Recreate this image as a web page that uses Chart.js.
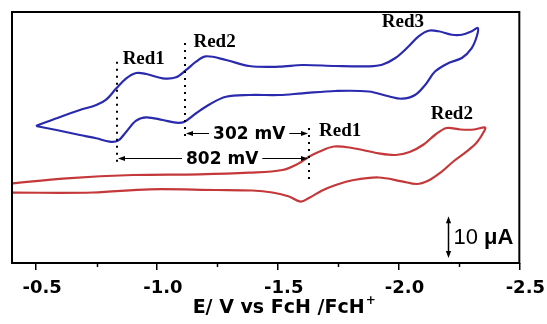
<!DOCTYPE html>
<html>
<head>
<meta charset="utf-8">
<script src="https://cdn.jsdelivr.net/npm/chart.js@4.4.1/dist/chart.umd.min.js"></script>
<style>
  html, body { margin: 0; padding: 0; background: #fff; }
</style>
</head>
<body>
<canvas id="cv" width="547" height="324"></canvas>
<script>
'use strict'

// CV loops: potential (V vs FcH/FcH+) and current (uA, offset)
const blueE = [-0.499,-0.584,-0.681,-0.749,-0.791,-0.832,-0.873,-0.914,-0.956,-1.024,-1.079,-1.121,-1.162,-1.203,-1.286,-1.382,-1.506,-1.602,-1.740,-1.877,-1.932,-1.987,-2.042,-2.083,-2.124,-2.166,-2.221,-2.262,-2.303,-2.328,
  -2.324,-2.303,-2.262,-2.207,-2.152,-2.111,-2.070,-2.014,-1.959,-1.877,-1.740,-1.602,-1.506,-1.382,-1.286,-1.217,-1.162,-1.114,-1.079,-1.024,-0.956,-0.914,-0.873,-0.839,-0.804,-0.749,-0.681,-0.584,-0.499]
const blueI = [32.75,34.59,36.57,37.77,39.13,41.76,44.15,45.42,45.18,44.15,44.39,46.14,48.12,49.41,48.53,47.09,46.92,47.33,47.09,47.02,47.40,49.00,51.80,54.19,55.53,55.39,54.57,54.57,55.39,56.18,
  54.19,51.39,49.00,47.81,45.82,42.62,40.23,39.27,39.85,41.00,41.12,40.57,40.16,40.16,39.75,37.89,35.79,33.78,33.54,34.18,34.83,34.02,31.39,29.24,29.00,29.81,30.60,31.79,32.75]

const redE = [-0.350,-0.400,-0.626,-0.900,-1.176,-1.382,-1.519,-1.588,-1.629,-1.671,-1.733,-1.808,-1.918,-1.988,-2.046,-2.104,-2.153,-2.199,-2.256,-2.314,-2.358,
  -2.349,-2.322,-2.281,-2.232,-2.174,-2.124,-2.075,-2.014,-1.918,-1.815,-1.740,-1.684,-1.629,-1.595,-1.547,-1.478,-1.395,-1.244,-0.969,-0.735,-0.400,-0.350]
const redI = [18.77,19.05,20.25,21.04,21.20,21.59,22.23,23.83,25.41,26.61,27.85,27.49,26.22,25.82,26.53,28.33,30.72,32.27,31.91,31.91,32.39,
  30.96,28.69,26.61,24.50,21.63,19.72,18.88,19.53,20.44,19.84,18.65,17.33,15.54,14.65,15.90,16.85,17.33,17.45,17.62,16.85,16.81,16.81]

const xTicks = [-0.5, -1.0, -1.5, -2.0, -2.5]
const xMinor = [-0.75, -1.25, -1.75, -2.25]

// peak markers (dotted lines)
const markE = [-0.833, -1.118, -1.629]
const markTop = [48.1, 52.6, 32.3]
const markBottom = [23.9, 30.1, 19.4]

// peak labels
const labelText = ['Red1', 'Red2', 'Red3', 'Red1', 'Red2']
const labelE = [-0.858, -1.151, -1.931, -1.671, -2.133]
const labelI = [48.77, 52.71, 57.49, 31.55, 35.62]

// separations
const gapText = ['302 mV', '802 mV']
const gapFrom = [-1.118, -0.833]
const gapTo = [-1.629, -1.629]
const gapMid = [-1.382, -1.270]
const gapI = [31.1, 25.1]

// 10 uA scale bar
const barE = -2.203
const barI = [1.2, 11.2]

const pts = (E, I) => E.map((e, i) => ({ x: e, y: I[i] }))

function head(ctx, x, y, dx, dy) {
  // filled arrow head with tip at x,y pointing along dx,dy
  const L = 7, W = 2.6
  ctx.beginPath()
  ctx.moveTo(x, y)
  ctx.lineTo(x - dx * L - dy * W, y - dy * L - dx * W)
  ctx.lineTo(x - dx * L + dy * W, y - dy * L + dx * W)
  ctx.closePath()
  ctx.fill()
}

const annot = {
  id: 'annot',
  afterDatasetsDraw(chart) {
    const { ctx, scales: { x, y } } = chart
    ctx.save()
    ctx.fillStyle = '#000'
    ctx.strokeStyle = '#000'

    // dotted lines
    ctx.lineWidth = 2
    ctx.setLineDash([2, 5])
    markE.forEach((e, i) => {
      const px = Math.round(x.getPixelForValue(e))
      ctx.beginPath()
      ctx.moveTo(px, y.getPixelForValue(markTop[i]))
      ctx.lineTo(px, y.getPixelForValue(markBottom[i]))
      ctx.stroke()
    })
    ctx.setLineDash([])

    // labels
    ctx.font = 'bold 19px "Liberation Serif"'
    ctx.textAlign = 'left'
    ctx.textBaseline = 'middle'
    labelText.forEach((t, i) => ctx.fillText(t, x.getPixelForValue(labelE[i]), y.getPixelForValue(labelI[i])))

    // separations with arrows
    ctx.font = 'bold 17px "DejaVu Sans"'
    ctx.textAlign = 'center'
    ctx.lineWidth = 1
    gapText.forEach((t, i) => {
      const x1 = Math.round(x.getPixelForValue(gapFrom[i])) + 1
      const x2 = Math.round(x.getPixelForValue(gapTo[i])) - 1
      const cx = x.getPixelForValue(gapMid[i])
      const cy = Math.round(y.getPixelForValue(gapI[i])) + 0.5
      const w = ctx.measureText(t).width
      ctx.fillText(t, cx, cy + 1)
      ctx.beginPath()
      ctx.moveTo(x1 + 3, cy); ctx.lineTo(cx - w / 2 - 4, cy)
      ctx.moveTo(cx + w / 2 + 4, cy); ctx.lineTo(x2 - 3, cy)
      ctx.stroke()
      head(ctx, x1, cy, -1, 0)
      head(ctx, x2, cy, 1, 0)
    })

    // scale bar
    const bx = Math.round(x.getPixelForValue(barE)) + 0.5
    const b0 = y.getPixelForValue(barI[0]), b1 = y.getPixelForValue(barI[1])
    ctx.lineWidth = 1.5
    ctx.beginPath()
    ctx.moveTo(bx, b0 - 4); ctx.lineTo(bx, b1 + 4)
    ctx.stroke()
    head(ctx, bx, b1, 0, -1)
    head(ctx, bx, b0, 0, 1)
    ctx.textAlign = 'left'
    ctx.textBaseline = 'middle'
    const ty = (b0 + b1) / 2 + 1
    ctx.font = '22px "Liberation Sans"'
    ctx.fillText('10 ', bx + 5, ty)
    const w10 = ctx.measureText('10 ').width
    ctx.font = 'bold 22px "Liberation Sans"'
    ctx.fillText('\u03bcA', bx + 5 + w10, ty)
    ctx.restore()
  },
  afterDraw(chart) {
    const { ctx, chartArea: a, scales: { x } } = chart
    ctx.save()
    ctx.strokeStyle = '#000'
    ctx.fillStyle = '#000'
    // frame
    ctx.lineWidth = 2
    ctx.strokeRect(a.left, a.top, a.right - a.left, a.bottom - a.top)
    // minor ticks
    ctx.lineWidth = 1.5
    xMinor.forEach(v => {
      const px = Math.round(x.getPixelForValue(v)) + 0.5
      ctx.beginPath()
      ctx.moveTo(px, a.bottom)
      ctx.lineTo(px, a.bottom + 4)
      ctx.stroke()
    })
    // axis title with superscript
    const main = 'E/ V vs FcH /FcH'
    ctx.font = 'bold 19px "DejaVu Sans"'
    const w1 = ctx.measureText(main).width
    ctx.font = 'bold 12px "DejaVu Sans"'
    const w2 = ctx.measureText('+').width
    const cx = (a.left + a.right) / 2 + 18
    const x0 = cx - (w1 + w2) / 2
    ctx.textAlign = 'left'
    ctx.textBaseline = 'alphabetic'
    ctx.font = 'bold 19px "DejaVu Sans"'
    ctx.fillText(main, x0, 313)
    ctx.font = 'bold 12px "DejaVu Sans"'
    ctx.fillText('+', x0 + w1 + 1, 304)
    ctx.restore()
  }
}

const ctx = document.getElementById('cv').getContext('2d')
new Chart(ctx, {
  type: 'scatter',
  data: {
    datasets: [{
      data: pts(blueE, blueI),
      showLine: true,
      borderColor: '#2a2aae',
      borderWidth: 2.2,
      pointRadius: 0,
      tension: 0.35,
      fill: false
    }, {
      data: pts(redE, redI),
      showLine: true,
      borderColor: '#c4383a',
      borderWidth: 2.2,
      pointRadius: 0,
      tension: 0.35,
      fill: false
    }]
  },
  options: {
    responsive: false,
    animation: false,
    events: [],
    layout: { padding: { left: 12, top: 12, right: 26, bottom: 0 } },
    plugins: { legend: { display: false }, tooltip: { enabled: false } },
    scales: {
      x: {
        type: 'linear',
        min: -2.5,
        max: -0.4,
        reverse: true,
        afterBuildTicks: scale => { scale.ticks = xTicks.map(v => ({ value: v })) },
        afterFit: scale => { scale.height = 61 },
        grid: { drawOnChartArea: false, drawTicks: true, tickLength: 7, color: '#000', lineWidth: 1.5 },
        border: { display: false },
        ticks: {
          color: '#000',
          font: { family: 'DejaVu Sans', size: 18, weight: 'bold' },
          padding: 8,
          labelOffset: 6,
          maxRotation: 0,
          autoSkip: false,
          callback: v => v.toFixed(1)
        }
      },
      y: { display: false, min: 0, max: 60 }
    }
  },
  plugins: [annot]
})
</script>
</body>
</html>
